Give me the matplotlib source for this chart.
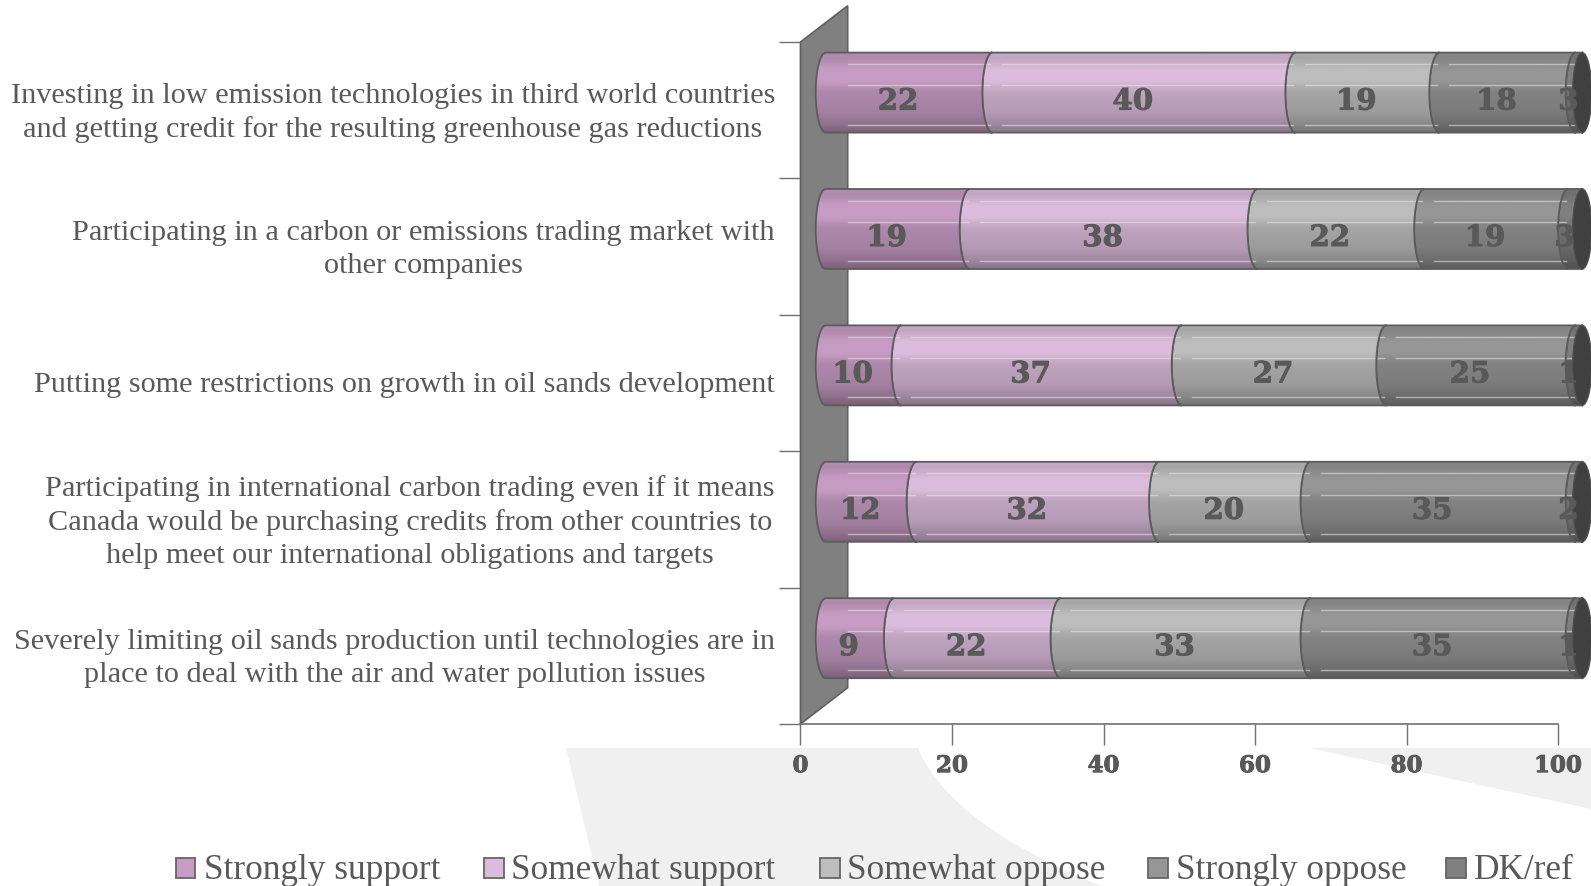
import numpy as np
import matplotlib
matplotlib.use('Agg')
import matplotlib.pyplot as plt
import matplotlib.patheffects as pe
from matplotlib.patches import PathPatch, Polygon, Ellipse, Rectangle
from matplotlib.path import Path

# chart data, top bar first
questions = [
    'Investing in low emission technologies in third world countries\nand getting credit for the resulting greenhouse gas reductions',
    'Participating in a carbon or emissions trading market with\nother companies',
    'Putting some restrictions on growth in oil sands development',
    'Participating in international carbon trading even if it means\nCanada would be purchasing credits from other countries to\nhelp meet our international obligations and targets',
    'Severely limiting oil sands production until technologies are in\nplace to deal with the air and water pollution issues',
]
series_names = ['Strongly support', 'Somewhat support', 'Somewhat oppose', 'Strongly oppose', 'DK/ref']
strongly_support = [22, 19, 10, 12, 9]
somewhat_support = [40, 38, 37, 32, 22]
somewhat_oppose = [19, 22, 27, 20, 33]
strongly_oppose = [18, 19, 25, 35, 35]
dk_ref = [3, 3, 1, 2, 1]
x_ticks = [0, 20, 40, 60, 80, 100]

colors = ['#c79cc4', '#dcbcdc', '#bdbdbd', '#969696', '#808080']
text_color = '#595959'
edge_color = '#5c5c5c'

W, H = 1591, 886
fig = plt.figure(figsize=(W / 100, H / 100), dpi=100, facecolor='white')

# light grey shapes behind the chart
back = fig.add_axes([0, 0, 1, 1], zorder=0)
back.set_xlim(0, W)
back.set_ylim(H, 0)
back.axis('off')
swoosh = Path(
    [(566, 748), (918, 748), (940, 800), (1000, 845), (1110, 890), (600, 890), (566, 748)],
    [Path.MOVETO, Path.LINETO, Path.CURVE4, Path.CURVE4, Path.CURVE4, Path.LINETO, Path.CLOSEPOLY])
back.add_patch(PathPatch(swoosh, fc='#f0f0f0', ec='none'))
back.add_patch(Polygon([(1309, 748), (1591, 748), (1591, 809)], fc='#f0f0f0', ec='none'))

# main axes: x 0-100 and one unit per category band
left, right, top, bottom = 800.5, 1558, 42, 724
ax = fig.add_axes([left / W, 1 - bottom / H, (right - left) / W, (bottom - top) / H], zorder=1)
ax.patch.set_alpha(0)
ax.set_xlim(0, 100)
ax.set_ylim(0, 5)
sx = (right - left) / 100
sy = (bottom - top) / 5

for s in ['top', 'right']:
    ax.spines[s].set_visible(False)
ax.spines['left'].set_color('#606060')
ax.spines['bottom'].set_color('#707070')
ax.spines['bottom'].set_linewidth(1.2)

heavy = [pe.withStroke(linewidth=0.7, foreground=text_color)]

ax.set_xticks(x_ticks)
ax.set_xticklabels(x_ticks, family='DejaVu Serif', weight='bold', fontsize=16.5, color=text_color, path_effects=heavy)
ax.tick_params(axis='x', length=14.8, width=1, color='#707070', pad=7.6)
ax.set_yticks(range(6))
ax.set_yticklabels([])
ax.tick_params(axis='y', which='major', length=14.8, width=1, color='#707070')
# labels sit a little above the band centres
label_shift = [3.5, 3.5, 1, 3.5, 3.5]
ax.set_yticks([4.5 - i + label_shift[i] / sy for i in range(5)], minor=True)
ax.set_yticklabels(questions, minor=True, family='Liberation Serif', fontsize=21.8, color=text_color,
                   multialignment='center', linespacing=1.33)
ax.tick_params(axis='y', which='minor', length=14.8, width=0, pad=3.6)

# the side wall
wall_w = 47.2 / sx
wall_h = 36.3 / sy
ax.add_patch(Polygon([(0, 0), (wall_w, wall_h), (wall_w, 5 + wall_h), (0, 5)],
                     fc='#808080', ec='#606060', lw=1.2, clip_on=False, zorder=1))

# bars
depth = 15.2 / sx       # bars sit this far in from the wall
cap = 10 / sx           # curve of each segment edge
bar_h = 80 / sy
lift = 17.6 / sy        # bars sit above the band centre
k = 0.5523

grad_t = [0, .05, .15, .2, .35, .42, .5, .75, .9, 1]
grad_f = [.90, .88, .95, 1, 1, .93, .87, .82, .72, .62]
t = np.linspace(0, 1, 60)
shade = np.interp(t, grad_t, grad_f)

values = np.array([strongly_support, somewhat_support, somewhat_oppose, strongly_oppose, dk_ref])


def segment_path(x0, x1, y_top, y_bot):
    mid = (y_top + y_bot) / 2
    h = (y_top - y_bot) / 2
    return Path(
        [(x0 + cap, y_top), (x1 + cap, y_top),
         (x1 + cap * (1 - k), y_top), (x1, mid + h * k), (x1, mid),
         (x1, mid - h * k), (x1 + cap * (1 - k), y_bot), (x1 + cap, y_bot),
         (x0 + cap, y_bot),
         (x0 + cap * (1 - k), y_bot), (x0, mid - h * k), (x0, mid),
         (x0, mid + h * k), (x0 + cap * (1 - k), y_top), (x0 + cap, y_top),
         (x0 + cap, y_top)],
        [Path.MOVETO, Path.LINETO,
         Path.CURVE4, Path.CURVE4, Path.CURVE4,
         Path.CURVE4, Path.CURVE4, Path.CURVE4,
         Path.LINETO,
         Path.CURVE4, Path.CURVE4, Path.CURVE4,
         Path.CURVE4, Path.CURVE4, Path.CURVE4,
         Path.CLOSEPOLY])


for i in range(5):
    yc = 4.5 - i + lift
    y_top = yc + bar_h / 2
    y_bot = yc - bar_h / 2
    # draw right to left so each curved edge sits on the one before
    starts = np.cumsum(values[:, i]) - values[:, i]
    for j in range(4, -1, -1):
        v = values[j, i]
        x0 = min(starts[j], 100)
        x1 = min(starts[j] + v, 100)
        path = segment_path(x0 + depth, x1 + depth, y_top, y_bot)
        rgb = np.array(matplotlib.colors.to_rgb(colors[j]))
        img = (shade[:, None] * rgb[None, :])[:, None, :]
        z = 2 + (4 - j) * 0.1
        im = ax.imshow(img, extent=[x0 + depth, x1 + depth + cap + 1, y_bot, y_top], aspect='auto',
                       origin='upper', zorder=z, interpolation='bilinear')
        patch = PathPatch(path, fc='none', ec=edge_color, lw=1.3, zorder=z + 0.05, clip_on=False)
        ax.add_patch(patch)
        im.set_clip_box(fig.bbox)
        im.set_clip_path(patch)
        for f in [.146, .41, .9]:
            start = max(x0 + depth + 20 / sx, wall_w)
            ax.plot([start, x1 + depth + 8 / sx], [y_top - f * (y_top - y_bot)] * 2, color='#e8e0e8', lw=1,
                    alpha=.6, zorder=z + 0.03, clip_on=False)
        ax.text((x0 + x1) / 2 + depth - 1 / sx, yc - 8.5 / sy, str(v), family='DejaVu Serif', weight='bold',
                fontsize=21, color=text_color, ha='center', va='center', zorder=5, clip_on=False, path_effects=heavy)
    # dark end of the tube
    ax.add_patch(Ellipse((100 + depth + 9 / sx, yc), 19 / sx, bar_h, fc='#404040', ec='#505050', lw=1,
                         zorder=4, clip_on=False))

ax.set_xlim(0, 100)
ax.set_ylim(0, 5)

# legend row
swatch_x = [175.5, 484, 820, 1148, 1446]
label_x = [204, 511, 847, 1176, 1474]
for name, c, sw, lx in zip(series_names, colors, swatch_x, label_x):
    back.add_patch(Rectangle((sw, 858), 19.5, 20, fc=c, ec='#666666', lw=1.3))
    back.text(lx, 879, name, family='Liberation Serif', fontsize=25.4, color=text_color, ha='left',
              va='baseline', clip_on=True)

fig.savefig('out.png', dpi=100)
